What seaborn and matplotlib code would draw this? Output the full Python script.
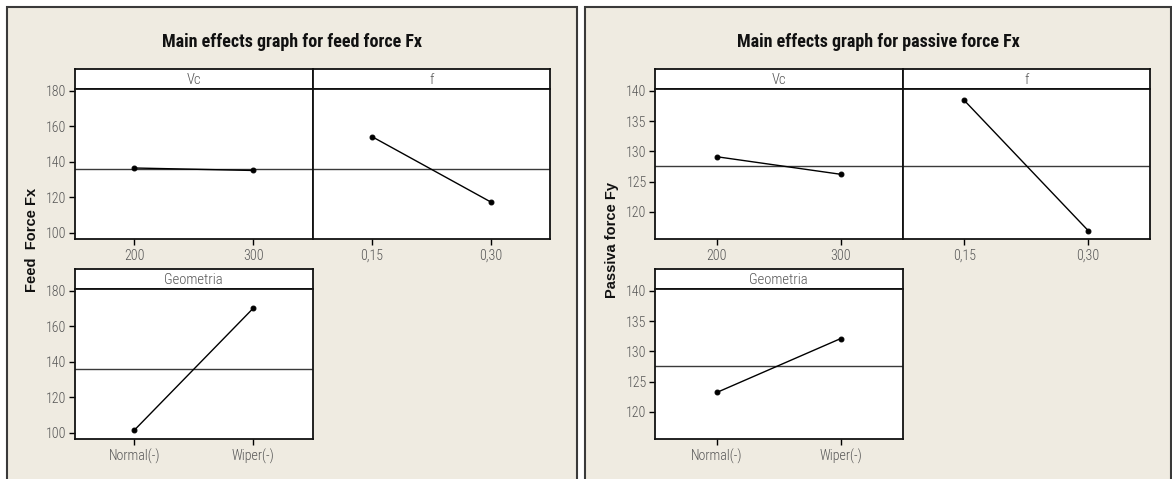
import numpy as np
import matplotlib
matplotlib.use("Agg")
import matplotlib.pyplot as plt
from matplotlib import font_manager
from matplotlib.patches import Rectangle
import seaborn as sns

# data
vc_levels = ["200", "300"]
f_levels = ["0,15", "0,30"]
geo_levels = ["Normal(-)", "Wiper(-)"]

fx_vc = [136.6, 135.2]
fx_f = [154.3, 117.5]
fx_geo = [101.6, 170.2]

fy_vc = [129.1, 126.2]
fy_f = [138.4, 116.9]
fy_geo = [123.2, 132.1]

fx_ticks = [100, 120, 140, 160, 180]
fy_ticks = [120, 125, 130, 135, 140]

sns.set_style("ticks")

# pick a condensed family if one is there
names = {f.name for f in font_manager.fontManager.ttflist}
narrow = next((n for n in ["Roboto Condensed", "Liberation Sans Narrow", "Open Sans Condensed"]
               if n in names), "DejaVu Sans")
plt.rcParams["font.family"] = [narrow, "DejaVu Sans"]

W, H = 1172, 479
fig = plt.figure(figsize=(W / 100, H / 100), dpi=100)
fig.patch.set_facecolor("white")


def rect(x0, y0, x1, y1):
    # pixel box (top-left origin) -> figure fraction [l, b, w, h]
    return [x0 / W, 1 - y1 / H, (x1 - x0) / W, (y1 - y0) / H]


# beige panel boxes
for x0, x1 in [(7, 577), (585, 1171)]:
    l, b, w, h = rect(x0, 7, x1, 485)
    fig.patches.append(Rectangle((l, b), w, h, transform=fig.transFigure,
                                 facecolor="#EFEBE1", edgecolor="#3a3a3a", lw=1.5, zorder=-5))

tick_color = "#555555"


def effect_panel(box, levels, values, ylim, ticks, label, show_y):
    x0, y0, x1, y1 = box
    hdr = fig.add_axes(rect(x0, y0 - 20, x1, y0))
    hdr.set_zorder(2)
    hdr.set_facecolor("white")
    hdr.set_xticks([])
    hdr.set_yticks([])
    for s in hdr.spines.values():
        s.set_linewidth(1.3)
        s.set_color("#111111")
    hdr.text(0.5, 0.45, label, ha="center", va="center", fontsize=10.5,
             color=tick_color, fontweight="light")

    ax = fig.add_axes(rect(x0, y0, x1, y1))
    ax.set_zorder(2)
    ax.set_facecolor("white")
    grand = np.mean(values)
    ax.axhline(grand, color="#3a3a3a", lw=1.0, zorder=1)
    sns.pointplot(x=levels, y=values, ax=ax, color="black", errorbar=None,
                  markersize=3.5, linewidth=1.0, zorder=3)
    ax.set_xlim(-0.5, 1.5)
    ax.set_ylim(*ylim)
    ax.set_yticks(ticks)
    ax.set_xlabel("")
    ax.set_ylabel("")
    for s in ax.spines.values():
        s.set_visible(True)
        s.set_linewidth(1.3)
        s.set_color("#111111")
    ax.tick_params(axis="both", direction="out", length=4, width=1, color="black",
                   labelsize=10, labelcolor=tick_color, pad=2)
    ax.tick_params(axis="x", pad=3)
    if not show_y:
        ax.tick_params(axis="y", left=False, labelleft=False)
    for t in ax.get_xticklabels() + ax.get_yticklabels():
        t.set_fontweight("light")
    return ax


def main_effects(px0, px1, xoff, right, title, ylabel, vc, f, geo, ylim, ticks):
    mid = (xoff + right) / 2
    effect_panel((xoff, 89, mid, 239), vc_levels, vc, ylim, ticks, "Vc", True)
    effect_panel((mid, 89, right, 239), f_levels, f, ylim, ticks, "f", False)
    effect_panel((xoff, 289, mid, 439), geo_levels, geo, ylim, ticks, "Geometria", True)
    fig.text((px0 + px1) / 2 / W, 1 - 42 / H, title, ha="center", va="center",
             fontsize=13, fontweight="bold", color="#111111")
    fig.text((xoff - 43) / W, 1 - 240 / H, ylabel, ha="center", va="center",
             rotation=90, fontsize=10.5, fontweight="bold", family="Liberation Sans",
             color="#111111")


main_effects(7, 577, 75, 550, "Main effects graph for feed force Fx", "Feed  Force Fx",
             fx_vc, fx_f, fx_geo, (96.6, 181.1), fx_ticks)
main_effects(585, 1171, 655, 1150, "Main effects graph for passive force Fx", "Passiva force Fy",
             fy_vc, fy_f, fy_geo, (115.5, 140.3), fy_ticks)

fig.savefig("out.png", dpi=100, facecolor=fig.get_facecolor())
